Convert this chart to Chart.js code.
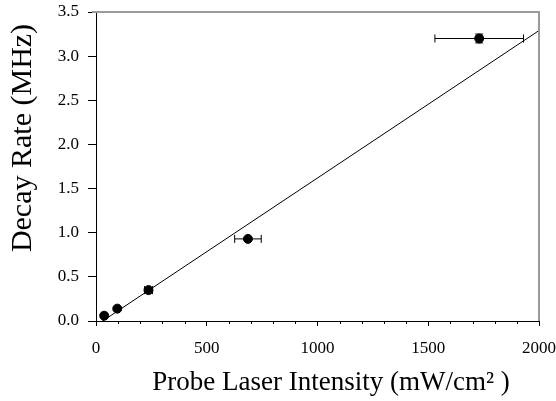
<!DOCTYPE html>
<html>
<head>
<meta charset="utf-8">
<script src="https://cdn.jsdelivr.net/npm/chart.js@4.4.1/dist/chart.umd.min.js"></script>
<style>
  html, body { margin: 0; padding: 0; background: #fff; }
  #wrap { width: 556px; height: 401px; }
</style>
</head>
<body>
<div id="wrap"><canvas id="myChart"></canvas></div>
<script>
// intensity (mW/cm2) and decay rate (MHz)
const intensidade = [37, 96, 237, 686, 1730];
const taxa = [0.06, 0.14, 0.35, 0.93, 3.20];
const erroX = [6, 8, 18, 60, 200];
const erroY = [0.02, 0.02, 0.03, 0.02, 0.05];

// linear fit line
const ajusteX = [0, 2000];
const ajusteY = [-0.05, 3.29];

const xTicks = [0, 500, 1000, 1500, 2000];
const yTicks = [0, 0.5, 1.0, 1.5, 2.0, 2.5, 3.0, 3.5];

const tituloX = "Probe Laser Intensity (mW/cm\u00B2 )";
const tituloY = "Decay Rate (MHz)";

const fonte = "'Liberation Serif', 'Times New Roman', serif";

let pontos = [];
for (let i = 0; i < intensidade.length; i++) {
  pontos.push({ x: intensidade[i], y: taxa[i] });
}
let linha = [];
for (let i = 0; i < ajusteX.length; i++) {
  linha.push({ x: ajusteX[i], y: ajusteY[i] });
}

// error bars, frame, minor ticks and titles
const extras = {
  id: "extras",
  afterDatasetsDraw(chart) {
    const ctx = chart.ctx;
    const xs = chart.scales.x;
    const ys = chart.scales.y;
    const area = chart.chartArea;
    ctx.save();
    ctx.strokeStyle = "#000";
    ctx.lineWidth = 1;
    for (let i = 0; i < intensidade.length; i++) {
      const px = xs.getPixelForValue(intensidade[i]);
      const py = ys.getPixelForValue(taxa[i]);
      const x1 = xs.getPixelForValue(intensidade[i] - erroX[i]);
      const x2 = xs.getPixelForValue(intensidade[i] + erroX[i]);
      const y1 = ys.getPixelForValue(taxa[i] - erroY[i]);
      const y2 = ys.getPixelForValue(taxa[i] + erroY[i]);
      ctx.beginPath();
      ctx.moveTo(x1, py); ctx.lineTo(x2, py);
      ctx.moveTo(x1, py - 4); ctx.lineTo(x1, py + 4);
      ctx.moveTo(x2, py - 4); ctx.lineTo(x2, py + 4);
      ctx.moveTo(px, y1); ctx.lineTo(px, y2);
      ctx.moveTo(px - 4, y1); ctx.lineTo(px + 4, y1);
      ctx.moveTo(px - 4, y2); ctx.lineTo(px + 4, y2);
      ctx.stroke();
    }
    // minor ticks on x
    for (let v = 100; v < 2000; v += 100) {
      if (v % 500 === 0) continue;
      const px = Math.round(xs.getPixelForValue(v)) + 0.5;
      ctx.beginPath();
      ctx.moveTo(px, area.bottom);
      ctx.lineTo(px, area.bottom + 3);
      ctx.stroke();
    }
    // gray frame top and right
    ctx.strokeStyle = "#9a9a9a";
    ctx.lineWidth = 2;
    ctx.beginPath();
    ctx.moveTo(area.left - 4, area.top);
    ctx.lineTo(area.right, area.top);
    ctx.lineTo(area.right, area.bottom);
    ctx.stroke();
    // titles
    ctx.fillStyle = "#000";
    ctx.textAlign = "center";
    ctx.textBaseline = "alphabetic";
    ctx.font = "27px " + fonte;
    ctx.fillText(tituloX, 331, 390);
    ctx.font = "30px " + fonte;
    ctx.translate(31, 138);
    ctx.rotate(-Math.PI / 2);
    ctx.fillText(tituloY, 0, 0);
    ctx.restore();
  }
};

const config = {
  type: "scatter",
  data: {
    datasets: [
      {
        label: "ajuste",
        data: linha,
        showLine: true,
        borderColor: "#000",
        borderWidth: 1,
        pointRadius: 0,
        fill: false,
      },
      {
        label: "dados",
        data: pontos,
        backgroundColor: "#000",
        borderColor: "#000",
        pointRadius: 4.5,
      },
    ],
  },
  options: {
    responsive: false,
    animation: false,
    events: [],
    layout: { padding: { left: 0, right: 17, top: 12, bottom: 0 } },
    plugins: {
      legend: { display: false },
      tooltip: { enabled: false },
    },
    scales: {
      x: {
        type: "linear",
        min: 0,
        max: 2000,
        afterFit: (s) => { s.height = 80; s.paddingLeft = 0; s.paddingRight = 0; },
        afterBuildTicks: (s) => { s.ticks = xTicks.map((v) => ({ value: v })); },
        grid: { drawOnChartArea: false, tickLength: 5, color: "#000" },
        border: { color: "#000", width: 1 },
        ticks: {
          color: "#000",
          padding: 12,
          maxRotation: 0,
          font: { family: fonte, size: 17 },
          callback: (v) => String(v),
        },
      },
      y: {
        type: "linear",
        min: 0,
        max: 3.5,
        afterFit: (s) => { s.width = 96; s.paddingTop = 0; s.paddingBottom = 0; },
        afterBuildTicks: (s) => { s.ticks = yTicks.map((v) => ({ value: v })); },
        grid: { drawOnChartArea: false, tickLength: 8, color: "#000" },
        border: { color: "#000", width: 1 },
        ticks: {
          color: "#000",
          padding: 9,
          font: { family: fonte, size: 17 },
          callback: (v) => Number(v).toFixed(1),
        },
      },
    },
  },
  plugins: [extras],
};

const canvas = document.getElementById("myChart");
canvas.width = 556;
canvas.height = 401;
let myChart = new Chart(canvas, config);
</script>
</body>
</html>
